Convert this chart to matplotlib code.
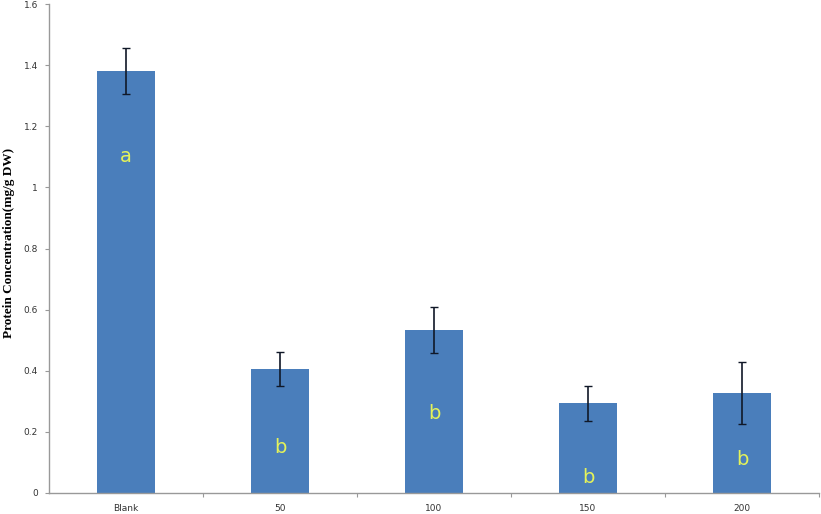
import matplotlib.pyplot as plt
import numpy as np

categories = ["Blank", "50", "100", "150", "200"]
protein = [1.38, 0.405, 0.533, 0.293, 0.327]
errors = [0.075, 0.055, 0.075, 0.058, 0.10]
letters = ["a", "b", "b", "b", "b"]
letter_y = [1.10, 0.15, 0.26, 0.05, 0.11]

fig = plt.figure(figsize=(8.21, 5.14), dpi=100)
ax = fig.add_axes([49 / 821, 21 / 514, 770 / 821, 489 / 514])

x = np.arange(len(categories))
ax.bar(x, protein, width=0.38, color="#4a7ebb", zorder=2)
ax.errorbar(x, protein, yerr=errors, fmt="none", ecolor="#101828",
            elinewidth=1.2, capsize=3, capthick=1, zorder=3)

for xi, lab, ly in zip(x, letters, letter_y):
    ax.text(xi, ly, lab, ha="center", va="center", fontsize=14,
            color="#e4f25a", zorder=4)

ax.set_xlim(-0.5, len(categories) - 0.5)
ax.set_ylim(0, 1.6)
ax.set_yticks(np.arange(0, 1.61, 0.2))
ax.set_yticklabels(["0", "0.2", "0.4", "0.6", "0.8", "1", "1.2", "1.4", "1.6"])
ax.set_xticks(x)
ax.set_xticklabels(categories)
ax.set_xticks(np.arange(0.5, len(categories), 1), minor=True)

ax.tick_params(axis="y", labelsize=6.5, colors="#333333", length=3,
               width=0.8, color="#999999", pad=5)
ax.tick_params(axis="x", which="major", labelsize=6.5, colors="#333333",
               length=0, pad=8)
ax.tick_params(axis="x", which="minor", length=3, width=0.8, color="#999999")

for side in ["top", "right"]:
    ax.spines[side].set_visible(False)
for side in ["left", "bottom"]:
    ax.spines[side].set_color("#999999")
    ax.spines[side].set_linewidth(1)

fig.text(9 / 821, 1 - 243 / 514, "Protein Concentration(mg/g DW)", rotation=90,
         ha="center", va="center", fontsize=9.5, fontweight="bold",
         family="Liberation Serif")

fig.savefig("out.png", dpi=100)
